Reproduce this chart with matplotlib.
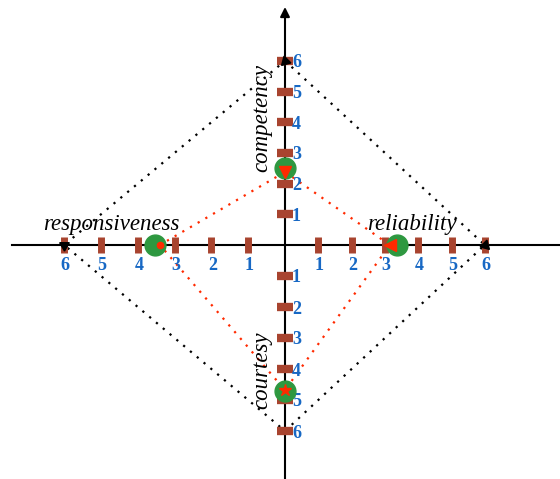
import numpy as np
import matplotlib.pyplot as plt

# four dimensions, in order: up, right, down, left
dims = ['competency', 'reliability', 'courtesy', 'responsiveness']
scale_ticks = [1, 2, 3, 4, 5, 6]
green_scores = [2.5, 3.35, 4.72, 3.53]   # green circles
red_scores = [2.38, 3.15, 4.68, 3.4]     # red dotted diamond
max_scores = [6, 6, 6, 6]                # black dotted diamond

# layout (pixels): origin and length of one unit in each direction
cx, cy = 285, 245
unit = [30.7, 33.3, 31.0, 36.8]
dirs = [(0, -1), (1, 0), (0, 1), (-1, 0)]

brown = '#A8442F'
blue = '#1768C4'
green = '#2E9840'
red = '#FF2A00'


def to_xy(i, v):
    dx, dy = dirs[i]
    return cx + dx * v * unit[i], cy + dy * v * unit[i]


def diamond(scores):
    pts = [to_xy(i, s) for i, s in enumerate(scores)]
    pts.append(pts[0])
    xs, ys = zip(*pts)
    return xs, ys


fig = plt.figure(figsize=(5.6, 4.79), dpi=100)
ax = fig.add_axes([0, 0, 1, 1])
ax.set_xlim(0, 560)
ax.set_ylim(479, 0)
ax.axis('off')

# axes
ax.plot([12, 560], [cy, cy], color='black', lw=1.5, zorder=1)
ax.annotate('', xy=(cx, 7), xytext=(cx, 479),
            arrowprops=dict(arrowstyle='-|>', color='black', lw=1.5,
                            mutation_scale=14, shrinkA=0, shrinkB=0), zorder=1)

# dotted diamonds
xs, ys = diamond(max_scores)
ax.plot(xs, ys, color='black', lw=1.6, ls=(0, (1, 3)), zorder=2)
xs, ys = diamond(red_scores)
ax.plot(xs, ys, color=red, lw=1.6, ls=(0, (1, 3)), zorder=2)

# tick marks and numbers
num = dict(color=blue, fontsize=13, fontweight='bold', family='Liberation Serif', zorder=3)
for i in range(4):
    horiz = dirs[i][1] == 0
    for t in scale_ticks:
        x, y = to_xy(i, t)
        if horiz:
            ax.plot(x, y, marker='|', ms=11, mew=5, color=brown, zorder=3)
            ax.text(x + 1, y + 20, str(t), ha='center', va='center', **num)
        else:
            ax.plot(x, y, marker='_', ms=12, mew=6, color=brown, zorder=3)
            ax.text(x + 7, y + 2, str(t), ha='left', va='center', **num)

# green circles
for i, s in enumerate(green_scores):
    x, y = to_xy(i, s)
    ax.plot(x, y, 'o', ms=15, color=green, mec=green, zorder=4)

# red markers
red_marks = ['v', '<', '*', '.']
for i, s in enumerate(red_scores):
    x, y = to_xy(i, s)
    ax.plot(x, y, marker=red_marks[i], ms=9, color=red, mec=red, zorder=5)

# black arrowheads at the maximum
black_rot = [135, 225, None, 180]
for i, s in enumerate(max_scores):
    if black_rot[i] is None:
        continue
    x, y = to_xy(i, s)
    ax.plot(x, y, marker=(3, 0, black_rot[i]), ms=8, color='black', zorder=5)

# dimension labels
lab = dict(family='Liberation Serif', style='italic', fontsize=16.5, color='black', zorder=6)
ax.text(111, 224, dims[3], ha='center', va='center', **lab)
ax.text(412, 224, dims[1], ha='center', va='center', **lab)
ax.text(262, 118, dims[0], ha='center', va='center', rotation=90, **lab)
ax.text(262, 370, dims[2], ha='center', va='center', rotation=90, **lab)

fig.savefig('out.png', dpi=100)
